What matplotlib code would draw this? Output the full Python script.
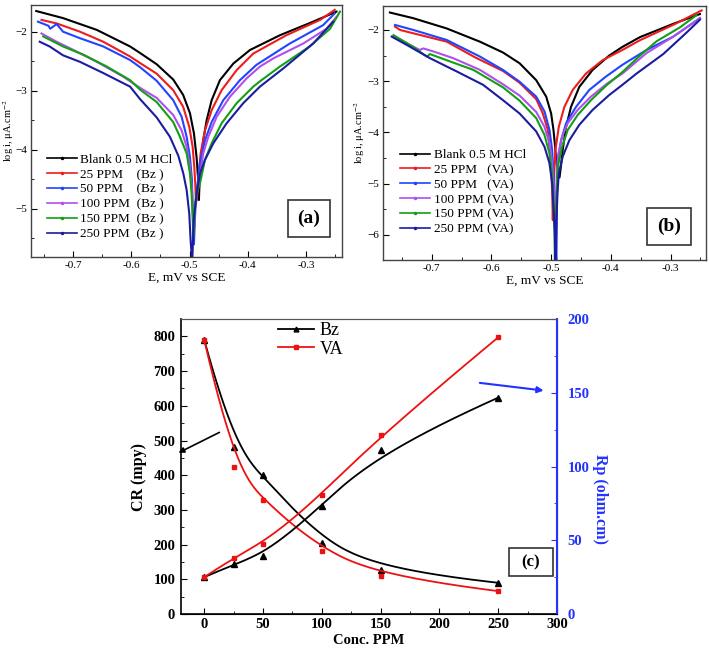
import numpy as np
import matplotlib
matplotlib.use('Agg')
import matplotlib.pyplot as plt
from matplotlib.lines import Line2D
from matplotlib.patches import Rectangle
from matplotlib.ticker import MultipleLocator

plt.rcParams['font.family'] = ['Liberation Serif', 'DejaVu Serif']
plt.rcParams['mathtext.fontset'] = 'stix'

# ---------------- Panel (a): Tafel curves, Bz ----------------
a_blank_E = [-0.763, -0.717, -0.659, -0.602, -0.585, -0.5565, -0.528, -0.511, -0.4993, -0.4925, -0.4880, -0.4852, -0.4840, -0.4830, -0.4822, -0.4765, -0.4707, -0.4621, -0.4479, -0.4250, -0.3964, -0.345, -0.288, -0.248]
a_blank_logi = [-1.65, -1.77, -1.97, -2.25, -2.36, -2.55, -2.81, -3.07, -3.38, -3.72, -4.12, -4.51, -4.85, -4.60, -4.29, -3.84, -3.50, -3.16, -2.82, -2.54, -2.31, -2.06, -1.83, -1.66]
a_25_E = [-0.754, -0.728, -0.688, -0.648, -0.602, -0.585, -0.5565, -0.528, -0.511, -0.5005, -0.4947, -0.4919, -0.4902, -0.4890, -0.4870, -0.4851, -0.4810, -0.4736, -0.4621, -0.4450, -0.4192, -0.3907, -0.334, -0.276, -0.251]
a_25_logi = [-1.80, -1.86, -2.00, -2.17, -2.42, -2.53, -2.71, -2.99, -3.27, -3.61, -3.95, -4.29, -4.57, -4.90, -4.80, -4.51, -4.06, -3.67, -3.33, -2.99, -2.65, -2.37, -2.06, -1.80, -1.63]
a_50_E = [-0.760, -0.742, -0.739, -0.728, -0.717, -0.688, -0.648, -0.602, -0.585, -0.5565, -0.528, -0.5136, -0.505, -0.4993, -0.4959, -0.4947, -0.4936, -0.4925, -0.4900, -0.4868, -0.4822, -0.4736, -0.4621, -0.4422, -0.4136, -0.3851, -0.328, -0.271, -0.251]
a_50_logi = [-1.83, -1.90, -1.95, -1.87, -2.00, -2.11, -2.25, -2.48, -2.60, -2.83, -3.16, -3.44, -3.78, -4.12, -4.51, -4.97, -5.30, -5.60, -5.00, -4.63, -4.23, -3.84, -3.53, -3.16, -2.82, -2.56, -2.20, -1.89, -1.69]
a_100_E = [-0.754, -0.728, -0.699, -0.659, -0.614, -0.585, -0.5565, -0.528, -0.5136, -0.505, -0.4993, -0.4959, -0.4936, -0.4925, -0.4900, -0.4834, -0.4765, -0.4679, -0.4535, -0.4307, -0.4021, -0.3793, -0.356, -0.305, -0.265, -0.248]
a_100_logi = [-2.03, -2.17, -2.31, -2.51, -2.76, -2.95, -3.12, -3.41, -3.67, -3.95, -4.29, -4.68, -5.08, -5.35, -4.90, -4.51, -4.06, -3.78, -3.44, -3.10, -2.79, -2.59, -2.45, -2.20, -1.95, -1.75]
a_150_E = [-0.751, -0.717, -0.682, -0.642, -0.602, -0.585, -0.5565, -0.528, -0.5165, -0.505, -0.4993, -0.4965, -0.4947, -0.4935, -0.4915, -0.4880, -0.4822, -0.4736, -0.4621, -0.4450, -0.4192, -0.3907, -0.3793, -0.345, -0.294, -0.259, -0.242]
a_150_logi = [-2.08, -2.25, -2.39, -2.59, -2.82, -2.98, -3.19, -3.53, -3.78, -4.06, -4.40, -4.74, -5.14, -5.45, -5.00, -4.75, -4.57, -4.17, -3.89, -3.55, -3.21, -2.93, -2.84, -2.59, -2.25, -1.95, -1.66]
a_250_E = [-0.757, -0.740, -0.717, -0.688, -0.648, -0.602, -0.585, -0.5565, -0.5336, -0.5193, -0.5107, -0.5050, -0.5005, -0.4982, -0.4965, -0.4955, -0.4930, -0.4879, -0.4822, -0.4736, -0.4593, -0.4364, -0.4079, -0.3793, -0.339, -0.288, -0.2535]
a_250_logi = [-2.17, -2.25, -2.40, -2.51, -2.70, -2.93, -3.14, -3.45, -3.78, -4.10, -4.40, -4.68, -5.08, -5.53, -5.76, -5.95, -5.20, -4.74, -4.40, -4.17, -3.89, -3.55, -3.21, -2.93, -2.62, -2.20, -1.83]
a_labels = ['Blank 0.5 M HCl', '25 PPM    (Bz )', '50 PPM    (Bz )', '100 PPM  (Bz )', '150 PPM  (Bz )', '250 PPM  (Bz )']

# ---------------- Panel (b): Tafel curves, VA ----------------
b_blank_E = [-0.770, -0.731, -0.675, -0.619, -0.5806, -0.5528, -0.525, -0.5083, -0.500, -0.4961, -0.4933, -0.4917, -0.4885, -0.4860, -0.4835, -0.4806, -0.475, -0.4667, -0.4528, -0.4306, -0.4028, -0.3806, -0.3513, -0.2955, -0.2509]
b_blank_logi = [-1.66, -1.77, -1.97, -2.23, -2.44, -2.65, -2.98, -3.30, -3.63, -3.95, -4.28, -4.54, -4.75, -4.88, -4.65, -4.34, -3.89, -3.50, -3.11, -2.78, -2.50, -2.33, -2.14, -1.88, -1.69]
b_25_E = [-0.7614, -0.7530, -0.7195, -0.6749, -0.6275, -0.5806, -0.5528, -0.525, -0.5139, -0.5056, -0.5028, -0.500, -0.4983, -0.4972, -0.4960, -0.4945, -0.4928, -0.4872, -0.4778, -0.4639, -0.4417, -0.4139, -0.3806, -0.3513, -0.2955, -0.2481]
b_25_logi = [-1.935, -2.000, -2.098, -2.228, -2.533, -2.80, -3.03, -3.35, -3.63, -3.95, -4.28, -4.67, -5.12, -5.71, -5.20, -4.70, -4.34, -3.89, -3.50, -3.17, -2.85, -2.59, -2.39, -2.20, -1.90, -1.62]
b_50_E = [-0.7614, -0.7307, -0.6749, -0.6191, -0.5806, -0.5528, -0.525, -0.5111, -0.5028, -0.4983, -0.4961, -0.4944, -0.4928, -0.4912, -0.4900, -0.4889, -0.4833, -0.475, -0.4583, -0.4361, -0.4083, -0.3806, -0.3402, -0.2955, -0.2509]
b_50_logi = [-1.902, -2.000, -2.195, -2.520, -2.78, -3.01, -3.30, -3.59, -3.95, -4.34, -4.80, -5.32, -6.10, -6.60, -5.20, -4.54, -4.15, -3.82, -3.50, -3.17, -2.91, -2.68, -2.39, -2.13, -1.77]
b_100_E = [-0.764, -0.742, -0.720, -0.714, -0.697, -0.664, -0.619, -0.5806, -0.5528, -0.525, -0.5111, -0.5028, -0.4983, -0.4961, -0.4944, -0.4930, -0.4910, -0.4889, -0.4817, -0.4722, -0.4556, -0.4333, -0.4056, -0.3806, -0.3402, -0.2955, -0.2509]
b_100_logi = [-2.13, -2.26, -2.39, -2.36, -2.42, -2.55, -2.78, -3.06, -3.28, -3.60, -3.89, -4.21, -4.60, -4.99, -5.45, -5.70, -5.00, -4.47, -4.08, -3.82, -3.56, -3.30, -3.04, -2.85, -2.45, -2.13, -1.77]
b_150_E = [-0.764, -0.731, -0.708, -0.703, -0.675, -0.630, -0.5806, -0.5528, -0.525, -0.5111, -0.5028, -0.4983, -0.4961, -0.4944, -0.4937, -0.4925, -0.4905, -0.4889, -0.4817, -0.4722, -0.4556, -0.4333, -0.4083, -0.3806, -0.3513, -0.3234, -0.2844, -0.2565]
b_150_logi = [-2.10, -2.33, -2.52, -2.47, -2.59, -2.78, -3.12, -3.38, -3.72, -4.05, -4.41, -4.80, -5.32, -5.84, -6.60, -5.80, -5.10, -4.67, -4.28, -3.95, -3.66, -3.37, -3.09, -2.82, -2.50, -2.22, -1.95, -1.71]
b_250_E = [-0.767, -0.742, -0.703, -0.658, -0.614, -0.5806, -0.5528, -0.525, -0.5111, -0.5028, -0.4983, -0.4961, -0.4939, -0.4928, -0.4915, -0.4895, -0.4872, -0.4806, -0.4694, -0.4528, -0.4306, -0.4028, -0.3806, -0.3569, -0.3123, -0.2732, -0.2509]
b_250_logi = [-2.13, -2.29, -2.55, -2.81, -3.07, -3.37, -3.63, -3.98, -4.28, -4.60, -4.99, -5.45, -5.97, -6.60, -5.80, -5.20, -4.80, -4.47, -4.15, -3.85, -3.56, -3.27, -3.07, -2.85, -2.47, -2.05, -1.80]
b_labels = ['Blank 0.5 M HCl', '25 PPM   (VA)', '50 PPM   (VA)', '100 PPM (VA)', '150 PPM (VA)', '250 PPM (VA)']

# ---------------- Panel (c) ----------------
conc = [0, 25, 50, 100, 150, 250]
cr_bz = [790, 481, 400, 206, 128, 90]
cr_va = [790, 423, 330, 182, 109, 66]
rp_bz = [25, 33.7, 39.3, 73.4, 111, 146.7]
rp_va = [25, 38.2, 47.5, 80.7, 121.4, 187.6]

colors = ['#000000', '#ee1c1c', '#2244ff', '#b04ff0', '#12a012', '#1c1ca0']

fig = plt.figure(figsize=(7.09, 6.49), dpi=100)


def tafel_axes(rect, curves, labels, xlim, ylim, yticks, legend_anchor, box, box_text, ylab_x):
    ax = fig.add_axes(rect)
    for (E, L), c in zip(curves, colors):
        ax.plot(E, L, color=c, lw=1.5, solid_joinstyle='round')
    ax.set_xlim(*xlim)
    ax.set_ylim(*ylim)
    ax.xaxis.set_major_locator(MultipleLocator(0.1))
    ax.xaxis.set_minor_locator(MultipleLocator(0.05))
    ax.set_yticks(yticks)
    ax.yaxis.set_minor_locator(MultipleLocator(0.5))
    ax.set_xticklabels(['%g' % t for t in ax.get_xticks()])
    ax.tick_params(which='both', direction='in', labelsize=8, top=False, right=False, pad=3)
    ax.tick_params(which='major', length=4)
    ax.tick_params(which='minor', length=2.5)
    for s in ax.spines.values():
        s.set_color('#444444')
        s.set_linewidth(1.0)
    ax.set_xlabel('E, mV vs SCE', fontsize=9.5, labelpad=1)
    ax.set_ylabel('log i, \u03bcA.cm$^{-2}$', fontsize=7.5)
    ax.yaxis.set_label_coords(ylab_x, 0.5)
    handles = [Line2D([], [], color=c, lw=1.2, marker='.', markersize=3) for c in colors]
    ax.legend(handles, labels, loc='upper left', bbox_to_anchor=legend_anchor, frameon=False,
              fontsize=9.5, handlelength=2.3, handletextpad=0.25, labelspacing=0.2,
              borderpad=0, borderaxespad=0)
    ax.add_patch(Rectangle((box[0], box[1]), box[2], box[3], transform=ax.transAxes,
                           fill=False, ec='#333333', lw=1.2))
    ax.text(box[0] + box[2] / 2, box[1] + box[3] / 2, box_text, transform=ax.transAxes,
            ha='center', va='center', fontsize=14, fontweight='bold')
    return ax


axa = tafel_axes([0.0437, 0.604, 0.4386, 0.3883],
                 [(a_blank_E, a_blank_logi), (a_25_E, a_25_logi), (a_50_E, a_50_logi),
                  (a_100_E, a_100_logi), (a_150_E, a_150_logi), (a_250_E, a_250_logi)],
                 a_labels, (-0.772, -0.2386), (-5.814, -1.548), [-5, -4, -3, -2],
                 (0.051, 0.41), (0.826, 0.079, 0.135, 0.147), '(a)', -0.047)
axb = tafel_axes([0.5402, 0.5994, 0.455, 0.3914],
                 [(b_blank_E, b_blank_logi), (b_25_E, b_25_logi), (b_50_E, b_50_logi),
                  (b_100_E, b_100_logi), (b_150_E, b_150_logi), (b_250_E, b_250_logi)],
                 b_labels, (-0.7815, -0.2414), (-6.488, -1.532), [-6, -5, -4, -3, -2],
                 (0.053, 0.437), (0.817, 0.059, 0.139, 0.144), '(b)', -0.05)


def bspline(xs, ys, n=300, k=3):
    P = np.column_stack([xs, ys]).astype(float)
    m = len(P)
    inner = np.linspace(0, 1, m - k + 1)
    knots = np.concatenate([np.zeros(k), inner, np.ones(k)])
    t = np.linspace(0, 1 - 1e-9, n)

    def N(i, p):
        if p == 0:
            return ((knots[i] <= t) & (t < knots[i + 1])).astype(float)
        out = np.zeros_like(t)
        d1 = knots[i + p] - knots[i]
        d2 = knots[i + p + 1] - knots[i + 1]
        if d1 > 0:
            out += (t - knots[i]) / d1 * N(i, p - 1)
        if d2 > 0:
            out += (knots[i + p + 1] - t) / d2 * N(i + 1, p - 1)
        return out

    B = np.column_stack([N(i, k) for i in range(m)])
    C = B @ P
    return C[:, 0], C[:, 1]


axc = fig.add_axes([0.2549, 0.0539, 0.5307, 0.4545])
axr = axc.twinx()

x, y = bspline(conc, cr_bz)
axc.plot(x, y, color='black', lw=1.3)
axc.plot(conc, cr_bz, ls='none', marker='^', ms=4, color='black')
x, y = bspline(conc, cr_va)
axc.plot(x, y, color='#ee1111', lw=1.3)
axc.plot(conc, cr_va, ls='none', marker='s', ms=3.5, color='#ee1111')
x, y = bspline(conc, rp_bz)
axr.plot(x, y, color='black', lw=1.3)
axr.plot(conc, rp_bz, ls='none', marker='^', ms=4, color='black')
x, y = bspline(conc, rp_va)
axr.plot(x, y, color='#ee1111', lw=1.3)
axr.plot(conc, rp_va, ls='none', marker='s', ms=3.5, color='#ee1111')

axc.set_xlim(-20, 300)
axc.set_ylim(0, 850)
axr.set_ylim(0, 200)
axc.xaxis.set_major_locator(MultipleLocator(50))
axc.xaxis.set_minor_locator(MultipleLocator(25))
axc.yaxis.set_major_locator(MultipleLocator(100))
axc.yaxis.set_minor_locator(MultipleLocator(50))
axr.yaxis.set_major_locator(MultipleLocator(50))
axr.yaxis.set_minor_locator(MultipleLocator(25))
axc.tick_params(which='both', direction='in', labelsize=10.5, top=False, right=False, pad=4)
axc.tick_params(axis='x', pad=3)
axc.tick_params(which='major', length=4)
axc.tick_params(which='minor', length=2.5)
axr.tick_params(which='both', direction='in', labelsize=10.5, colors='#2233ff', pad=7.5)
axr.tick_params(which='major', length=4)
axr.tick_params(which='minor', length=2.5)
for lab in axc.get_xticklabels() + axc.get_yticklabels() + axr.get_yticklabels():
    lab.set_fontweight('bold')
axr.spines['right'].set_color('#2233ff')
axr.spines['right'].set_linewidth(1.5)
axr.spines['left'].set_visible(False)
axr.spines['top'].set_color('#555555')
axc.spines['top'].set_color('#555555')
axc.spines['left'].set_linewidth(1.2)
axc.spines['bottom'].set_linewidth(1.2)

axc.set_xlabel('Conc. PPM', fontsize=10.5, fontweight='bold')
axc.xaxis.set_label_coords(0.5, -0.068)
axc.set_ylabel('CR (mpy)', fontsize=11.5, fontweight='bold')
axc.yaxis.set_label_coords(-0.09, 0.465)
axr.set_ylabel('Rp (ohm.cm)', fontsize=11.5, fontweight='bold', color='#2233ff', rotation=270,
               va='bottom')
axr.yaxis.set_label_coords(1.092, 0.39)

hc = [Line2D([], [], color='black', lw=1.3, marker='^', ms=3.5),
      Line2D([], [], color='#ee1111', lw=1.3, marker='s', ms=3)]
axc.legend(hc, ['Bz', 'VA'], loc='upper left', bbox_to_anchor=(0.259, 0.99), frameon=False,
           fontsize=13, handlelength=2.0, handletextpad=0.3, labelspacing=0.1,
           borderpad=0, borderaxespad=0)

axc.add_patch(Rectangle((0.872, 0.129), 0.117, 0.095, transform=axc.transAxes,
                        fill=False, ec='#333333', lw=1.2, zorder=5))
axc.text(0.872 + 0.0585, 0.129 + 0.0475, '(c)', transform=axc.transAxes, ha='center',
         va='center', fontsize=12, fontweight='bold', zorder=5)

axc.annotate('', xy=(-24, 461), xytext=(15, 527), xycoords='data', textcoords='data',
             arrowprops=dict(arrowstyle='-|>', color='black', lw=1.2, mutation_scale=8),
             annotation_clip=False)
axc.annotate('', xy=(291, 643), xytext=(232, 667), xycoords='data', textcoords='data',
             arrowprops=dict(arrowstyle='-|>', color='#2233ff', lw=1.5, mutation_scale=9),
             annotation_clip=False)

fig.savefig('out.png', dpi=100)
